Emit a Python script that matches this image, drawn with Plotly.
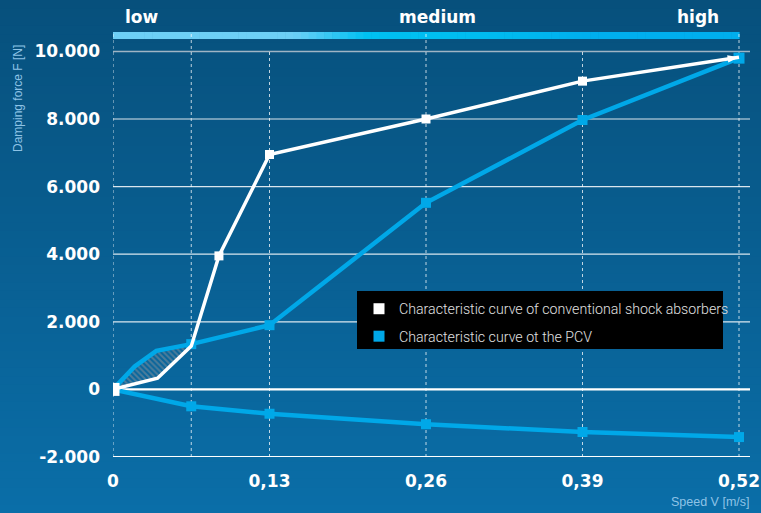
import plotly.graph_objects as go

# ---- data ----
speed_ticks = [0, 0.13, 0.26, 0.39, 0.52]
speed_tick_labels = ["0", "0,13", "0,26", "0,39", "0,52"]
force_ticks = [-2000, 0, 2000, 4000, 6000, 8000, 10000]
force_tick_labels = ["-2.000", "0", "2.000", "4.000", "6.000", "8.000", "10.000"]

conv_x = [0, 0.037, 0.065, 0.088, 0.13, 0.26, 0.39, 0.52]
conv_y = [0, 330, 1280, 3950, 6950, 8000, 9120, 9830]

pcv_up_x = [0, 0.018, 0.036, 0.065, 0.13, 0.26, 0.39, 0.52]
pcv_up_y = [0, 680, 1140, 1340, 1900, 5520, 7970, 9800]

pcv_low_x = [0, 0.065, 0.13, 0.26, 0.39, 0.52]
pcv_low_y = [0, -500, -720, -1030, -1260, -1410]

dotted_x_long = [0, 0.065, 0.26, 0.52]
dotted_x_short = [0.13, 0.39]

zone_labels = ["low", "medium", "high"]
zone_label_px = [142, 437, 698]

legend_names = ["Characteristic curve of conventional shock absorbers",
                "Characteristic curve ot the PCV"]

WHITE = "#ffffff"
BLUE = "#00a8e8"

W, H = 761, 513
L, R, T, B = 113, 11, 30, 56
pw, ph = W - L - R, H - T - B
px_per_x = 626 / 0.52
xmax = pw / px_per_x
px_per_y = 67.6 / 2000
ymin = -2000
ymax = ymin + ph / px_per_y

def hex2rgb(h):
    h = h.lstrip("#")
    return tuple(int(h[i:i + 2], 16) for i in (0, 2, 4))

def lerp(c1, c2, t):
    a, b = hex2rgb(c1), hex2rgb(c2)
    return "rgb(%d,%d,%d)" % tuple(round(a[i] + (b[i] - a[i]) * t) for i in range(3))

fig = go.Figure()

# hatched zone between curves
hx = pcv_up_x[:4] + conv_x[:3][::-1]
hy = pcv_up_y[:4] + conv_y[:3][::-1]
fig.add_trace(go.Scatter(x=hx, y=hy, mode="lines", fill="toself",
                         line=dict(width=0), fillcolor="rgba(0,0,0,0)",
                         fillpattern=dict(shape="\\", fgcolor="#8f9399", bgcolor="rgba(0,0,0,0)",
                                          size=4, solidity=0.5),
                         showlegend=False, hoverinfo="skip"))

mk_line = dict(width=0)
fig.add_trace(go.Scatter(x=pcv_low_x, y=pcv_low_y, mode="lines+markers",
                         line=dict(color=BLUE, width=4.5),
                         marker=dict(symbol="square", size=[0, 10, 10, 10, 10, 10], color=BLUE,
                                     opacity=1, line=mk_line),
                         showlegend=False))
fig.add_trace(go.Scatter(x=pcv_up_x, y=pcv_up_y, mode="lines+markers",
                         line=dict(color=BLUE, width=4.5),
                         marker=dict(symbol="square", size=[0, 0, 0, 10, 10, 10, 10, 11], color=BLUE,
                                     opacity=1, line=mk_line),
                         showlegend=False))
fig.add_trace(go.Scatter(x=conv_x[:-1], y=conv_y[:-1], mode="markers",
                         marker=dict(symbol="square", size=[13, 0, 0, 9, 9, 9, 9], color=WHITE,
                                     opacity=1, line=mk_line),
                         showlegend=False))
fig.add_trace(go.Scatter(x=conv_x, y=conv_y, mode="lines",
                         line=dict(color=WHITE, width=3.5),
                         showlegend=False))
# white arrow head at the end of the conventional curve
fig.add_trace(go.Scatter(x=conv_x[-2:], y=conv_y[-2:], mode="markers",
                         marker=dict(symbol="arrow", angleref="previous",
                                     size=[0, 12], color=WHITE, opacity=1, line=mk_line),
                         showlegend=False, hoverinfo="skip"))

# legend entries
for i, (name, col) in enumerate(zip(legend_names, [WHITE, BLUE])):
    fig.add_trace(go.Scatter(x=[None], y=[None], mode="markers", name=name,
                             legendgroup="g%d" % i,
                             marker=dict(symbol="square", size=11, color=col, line=mk_line)))

shapes = []
# background gradient
top_c, bot_c = "#07507c", "#0a6ea8"
n = 60
for i in range(n):
    y0 = 1 + T / ph - (i + 1) * (H / ph) / n
    y1 = 1 + T / ph - i * (H / ph) / n
    shapes.append(dict(type="rect", xref="paper", yref="paper",
                       x0=-L / pw - 0.01, x1=1 + R / pw + 0.01, y0=y0 - 0.002, y1=y1,
                       fillcolor=lerp(top_c, bot_c, (i + 0.5) / n), line=dict(width=0),
                       layer="below"))

# speed bar gradient
bar_y0 = ymin + (457 - 39) / px_per_y
bar_y1 = ymin + (457 - 32) / px_per_y
stops = [(0.0, "#6dcff6"), (0.15, "#6dcff6"), (0.21, "#00c0f2"), (0.30, "#00bdf0"), (0.40, "#00aeee"), (0.52, "#00aeee")]
m = 80
for i in range(m):
    xa = 0.52 * i / m
    xb = 0.52 * (i + 1) / m
    xc = (xa + xb) / 2
    for j in range(len(stops) - 1):
        if stops[j][0] <= xc <= stops[j + 1][0]:
            t = (xc - stops[j][0]) / (stops[j + 1][0] - stops[j][0])
            col = lerp(stops[j][1], stops[j + 1][1], t)
            break
    shapes.append(dict(type="rect", xref="x", yref="y", x0=xa, x1=xb + 0.0005,
                       y0=bar_y0, y1=bar_y1, fillcolor=col, line=dict(width=0), layer="below"))

# horizontal grid lines
for v in force_ticks:
    if v == 10000:
        c, w = "#9fb4c4", 1.5
    elif v in (0, -2000):
        c, w = WHITE, 2.2
    else:
        c, w = "rgba(255,255,255,0.85)", 1.2
    shapes.append(dict(type="line", xref="paper", yref="y", x0=0, x1=1, y0=v, y1=v,
                       line=dict(color=c, width=w), layer="below"))

# vertical dotted lines
for xv in dotted_x_long:
    shapes.append(dict(type="line", xref="x", yref="y", x0=xv, x1=xv, y0=-2000, y1=bar_y1,
                       line=dict(color="rgba(255,255,255,0.75)", width=1, dash="dot"), layer="below"))
for xv in dotted_x_short:
    shapes.append(dict(type="line", xref="x", yref="y", x0=xv, x1=xv, y0=-2000, y1=10000,
                       line=dict(color="rgba(255,255,255,0.75)", width=1, dash="dot"), layer="below"))

# legend box
shapes.append(dict(type="rect", xref="paper", yref="paper",
                   x0=(357 - L) / pw, x1=(723 - L) / pw,
                   y0=(457 - 349) / ph, y1=(457 - 291) / ph,
                   fillcolor="#000000", line=dict(width=0), layer="above"))

annotations = []
for lab, px in zip(zone_labels, zone_label_px):
    annotations.append(dict(text=lab, xref="paper", yref="paper",
                            x=(px - L) / pw, y=1 + (T - 17) / ph, xanchor="center", yanchor="middle",
                            showarrow=False,
                            font=dict(family="DejaVu Sans", size=17, color=WHITE, weight="bold")))
annotations.append(dict(text="Damping force F [N]", xref="paper", yref="paper",
                        x=(18 - L) / pw, y=(457 - 99) / ph, textangle=-90,
                        xanchor="center", yanchor="middle", showarrow=False,
                        font=dict(family="Liberation Sans", size=12, color="#8ec3e6")))
annotations.append(dict(text="Speed V [m/s]", xref="paper", yref="paper",
                        x=(752 - L) / pw, y=-(502 - 457) / ph,
                        xanchor="right", yanchor="middle", showarrow=False,
                        font=dict(family="Liberation Sans", size=12.5, color="#8ec3e6")))

fig.update_layout(
    width=W, height=H, autosize=False,
    margin=dict(l=L, r=R, t=T, b=B, pad=0, autoexpand=False),
    paper_bgcolor="#0a5f93", plot_bgcolor="rgba(0,0,0,0)",
    shapes=shapes, annotations=annotations,
    showlegend=True,
    legend=dict(x=(359 - L) / pw, y=(457 - 293) / ph, xanchor="left", yanchor="top",
                bgcolor="rgba(0,0,0,0)", borderwidth=0,
                font=dict(family="Roboto", size=14.2, color="#e0e0e0", weight=300),
                itemwidth=30, tracegroupgap=6),
    xaxis=dict(range=[0, xmax], showgrid=False, zeroline=False, showline=False,
               tickvals=speed_ticks, ticktext=speed_tick_labels, ticks="",
               tickfont=dict(family="DejaVu Sans", size=17, color=WHITE, weight="bold"),
               ticklabelstandoff=12, automargin=False),
    yaxis=dict(range=[ymin, ymax], showgrid=False, zeroline=False, showline=False,
               tickvals=force_ticks, ticktext=force_tick_labels, ticks="",
               tickfont=dict(family="DejaVu Sans", size=17, color=WHITE, weight="bold"),
               ticklabelstandoff=12, automargin=False),
)

fig.write_html("out.html", config={"displayModeBar": False, "responsive": False},
               post_script="document.body.style.margin='0';document.body.style.overflow='hidden';")
